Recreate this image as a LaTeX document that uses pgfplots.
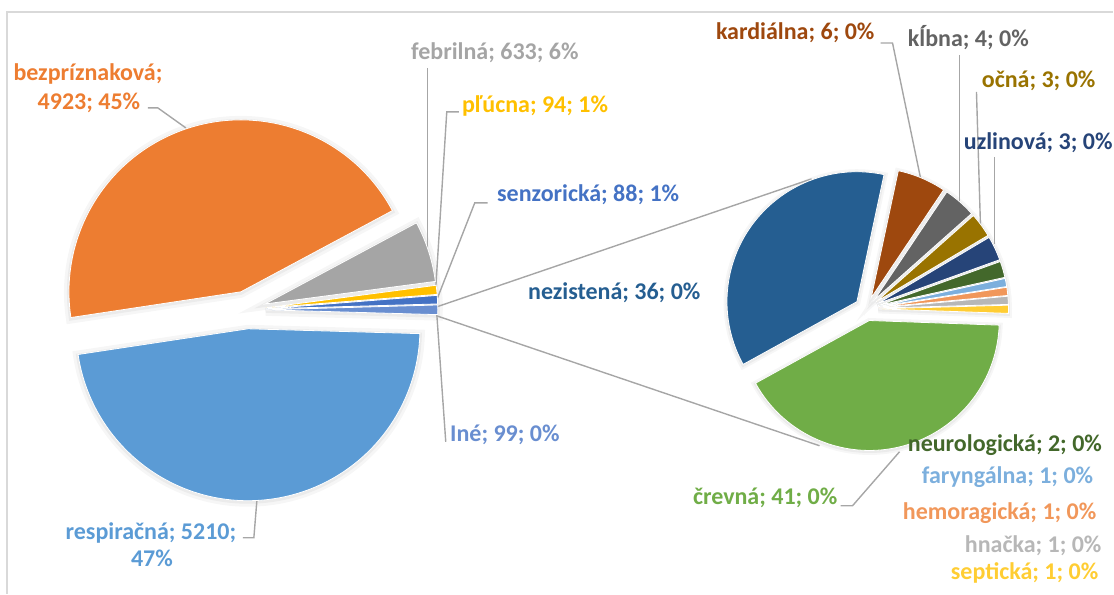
\documentclass[border=0pt]{standalone}
\usepackage{pgfplots}
\pgfplotsset{compat=1.18}
\usepackage{pgfplotstable}
\usepackage{fontspec}
\setmainfont{Carlito}

% Office theme colours
\definecolor{resC}{HTML}{5B9BD5}
\definecolor{bezC}{HTML}{ED7D31}
\definecolor{febC}{HTML}{A5A5A5}
\definecolor{plucC}{HTML}{FFC000}
\definecolor{senC}{HTML}{4472C4}
\definecolor{ineC}{HTML}{698ED0}
\definecolor{nezC}{HTML}{255E91}
\definecolor{creC}{HTML}{70AD47}
\definecolor{karC}{HTML}{9E480E}
\definecolor{klbC}{HTML}{636363}
\definecolor{ocnC}{HTML}{997300}
\definecolor{uzlC}{HTML}{264478}
\definecolor{neuC}{HTML}{43682B}
\definecolor{farC}{HTML}{7CAFDD}
\definecolor{hemC}{HTML}{F1975A}
\definecolor{hnaC}{HTML}{B7B7B7}
\definecolor{sepC}{HTML}{FFCD33}
\definecolor{leadC}{HTML}{A6A6A6}
\definecolor{frameC}{HTML}{D9D9D9}
\definecolor{shadA}{HTML}{F6F6F6}
\definecolor{shadB}{HTML}{EBEBEB}

% main pie, counterclockwise from the "Iné" slice
\pgfplotstableread{
value color
99    ineC
88    senC
94    plucC
633   febC
4923  bezC
5210  resC
}\mainpie

% second pie (the 99 cases of "Iné")
\pgfplotstableread{
value color
1   sepC
1   hnaC
1   hemC
1   farC
2   neuC
3   uzlC
3   ocnC
4   klbC
6   karC
36  nezC
41  creC
}\subpie

% #1 table, #2/#3 centre (axis units), #4 radius, #5 explosion, #6 start angle, #7 style
\newcommand{\drawpie}[7]{%
  \pgfplotstablegetrowsof{#1}%
  \pgfmathtruncatemacro{\nrows}{\pgfplotsretval-1}%
  \def\total{0}%
  \pgfplotsforeachungrouped \i in {0,...,\nrows}{%
    \pgfplotstablegetelem{\i}{value}\of{#1}%
    \pgfmathsetmacro{\total}{\total+\pgfplotsretval}}%
  \def\angA{#6}%
  \pgfplotsforeachungrouped \i in {0,...,\nrows}{%
    \pgfplotstablegetelem{\i}{value}\of{#1}\let\val\pgfplotsretval
    \pgfplotstablegetelem{\i}{color}\of{#1}\let\col\pgfplotsretval
    \pgfmathsetmacro{\angB}{\angA+\val/\total*360}%
    \pgfmathsetmacro{\angM}{(\angA+\angB)/2}%
    \edef\temp{\noexpand\path[#7]
      (axis cs:#2,#3) ++(\angM:#5) -- ++(\angA:#4)
      arc[start angle=\angA, end angle=\angB, radius=#4] -- cycle;}%
    \temp
    \let\angA\angB}}

\tikzset{lbl/.style={anchor=base west, font=\bfseries\fontsize{12}{14.5}\selectfont, inner sep=0pt},
         lead/.style={leadC, line width=0.7pt}}

\begin{document}
\begin{tikzpicture}
\begin{axis}[
    x=0.5pt, y=0.5pt,
    xmin=0, xmax=1114, ymin=0, ymax=594,
    y dir=reverse,
    hide axis, clip=false, scale only axis]
\path (axis cs:0,0) rectangle (axis cs:1114,594);
\draw[frameC, line width=0.6pt] (axis cs:7,594) -- (axis cs:7,12) -- (axis cs:1114,12);

% soft shadows under the slices
\drawpie{\mainpie}{247}{311}{86pt}{9.5pt}{-1.6}{fill=shadA, draw=shadA, line width=5pt}
\drawpie{\subpie}{867}{310}{65pt}{6pt}{-2}{fill=shadA, draw=shadA, line width=3.5pt}
\drawpie{\mainpie}{247}{311}{86pt}{9.5pt}{-1.6}{fill=shadB, draw=shadB, line width=2pt}
\drawpie{\subpie}{867}{310}{65pt}{6pt}{-2}{fill=shadB, draw=shadB, line width=1.5pt}

% connector lines between the two pies
\draw[lead] (axis cs:437,307) -- (axis cs:812,179);
\draw[lead] (axis cs:437,316) -- (axis cs:820,446);

% leader lines
\draw[lead] (axis cs:148,108) -- (axis cs:158,108) -- (axis cs:186,128);
\draw[lead] (axis cs:428,68) -- (axis cs:428,250);
\draw[lead] (axis cs:459,112) -- (axis cs:447,112) -- (axis cs:436,288);
\draw[lead] (axis cs:488,203) -- (axis cs:475,203) -- (axis cs:437,300);
\draw[lead] (axis cs:437,314) -- (axis cs:446,442);
\draw[lead] (axis cs:243,538) -- (axis cs:254,538) -- (axis cs:257,501);
\draw[lead] (axis cs:881,43) -- (axis cs:893,43) -- (axis cs:921,178);
\draw[lead] (axis cs:960,55) -- (axis cs:960,202);
\draw[lead] (axis cs:977,92) -- (axis cs:981,226);
\draw[lead] (axis cs:995,157) -- (axis cs:995,244);
\draw[lead] (axis cs:841,506) -- (axis cs:853,506) -- (axis cs:900,452);

% pies
\drawpie{\mainpie}{247}{310}{86pt}{9.5pt}{-1.6}{fill=\col, draw=white, line width=0.4pt}
\drawpie{\subpie}{867}{309}{65pt}{6pt}{-2}{fill=\col, draw=white, line width=0.4pt}

% labels, main pie
\node[lbl, anchor=base, text=bezC] at (axis cs:88,81) {bezpríznaková;};
\node[lbl, anchor=base, text=bezC] at (axis cs:89,110) {4923; 45\%};
\node[lbl, text=febC]  at (axis cs:411,60)  {febrilná; 633; 6\%};
\node[lbl, text=plucC] at (axis cs:462,113) {pľúcna; 94; 1\%};
\node[lbl, text=senC]  at (axis cs:497,202) {senzorická; 88; 1\%};
\node[lbl, text=nezC]  at (axis cs:528,300) {nezistená; 36; 0\%};
\node[lbl, text=ineC]  at (axis cs:450,442) {Iné; 99; 0\%};
\node[lbl, anchor=base, text=resC] at (axis cs:151,540) {respiračná; 5210;};
\node[lbl, anchor=base, text=resC] at (axis cs:152,567) {47\%};

% labels, second pie
\node[lbl, text=karC] at (axis cs:716,40)  {kardiálna; 6; 0\%};
\node[lbl, text=klbC] at (axis cs:908,47)  {kĺbna; 4; 0\%};
\node[lbl, text=ocnC] at (axis cs:982,88)  {očná; 3; 0\%};
\node[lbl, text=uzlC] at (axis cs:964,150) {uzlinová; 3; 0\%};
\node[lbl, text=neuC] at (axis cs:908,452) {neurologická; 2; 0\%};
\node[lbl, text=farC] at (axis cs:922,484) {faryngálna; 1; 0\%};
\node[lbl, text=creC] at (axis cs:693,505) {črevná; 41; 0\%};
\node[lbl, text=hemC] at (axis cs:903,520) {hemoragická; 1; 0\%};
\node[lbl, text=hnaC] at (axis cs:965,553) {hnačka; 1; 0\%};
\node[lbl, text=sepC] at (axis cs:951,580) {septická; 1; 0\%};
\end{axis}
\end{tikzpicture}
\end{document}
